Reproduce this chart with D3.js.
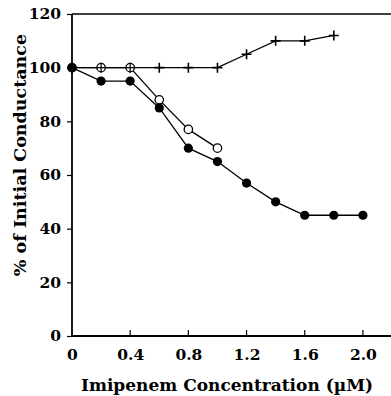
<!DOCTYPE html>
<html>
<head>
<meta charset="utf-8">
<script src="https://cdn.jsdelivr.net/npm/d3@7"></script>
<style>
  body { margin: 0; background: #fff; }
  text { font-family: "DejaVu Serif", "Liberation Serif", serif; font-weight: bold; fill: #000; }
</style>
</head>
<body>
<div id="chart"></div>
<script>
// data
const plusX = [0, 0.2, 0.4, 0.6, 0.8, 1.0, 1.2, 1.4, 1.6, 1.8];
const plusY = [100, 100, 100, 100, 100, 100, 105, 110, 110, 112];
const openX = [0, 0.2, 0.4, 0.6, 0.8, 1.0];
const openY = [100, 100, 100, 88, 77, 70];
const filledX = [0, 0.2, 0.4, 0.6, 0.8, 1.0, 1.2, 1.4, 1.6, 1.8, 2.0];
const filledY = [100, 95, 95, 85, 70, 65, 57, 50, 45, 45, 45];
const xTicks = [0, 0.4, 0.8, 1.2, 1.6, 2.0];
const yTicks = [0, 20, 40, 60, 80, 100, 120];

const W = 391, H = 396;
const margin = { top: 14, right: 0, bottom: 60, left: 72 };

const svg = d3.select('#chart').append('svg')
    .attr('width', W)
    .attr('height', H);

const x = d3.scaleLinear().domain([0, 2.2]).range([margin.left, margin.left + 320]);
const y = d3.scaleLinear().domain([0, 120]).range([H - margin.bottom, margin.top]);

// frame: left, bottom, top (no right edge visible)
svg.append('line').attr('x1', x(0)).attr('x2', x(0)).attr('y1', y(0)).attr('y2', y(120))
    .attr('stroke', '#000').attr('stroke-width', 1.8);
svg.append('line').attr('x1', x(0)).attr('x2', W).attr('y1', y(0)).attr('y2', y(0))
    .attr('stroke', '#000').attr('stroke-width', 1.8);
svg.append('line').attr('x1', x(0)).attr('x2', W).attr('y1', y(120)).attr('y2', y(120))
    .attr('stroke', '#000').attr('stroke-width', 1.5);

// y ticks (outward)
const yAxis = d3.axisLeft(y).tickValues(yTicks).tickSize(5).tickPadding(6).tickFormat(d3.format('d'));
const gy = svg.append('g').attr('transform', `translate(${x(0)},0)`).call(yAxis);
gy.select('.domain').remove();
gy.selectAll('line').attr('stroke-width', 1.2);
gy.selectAll('text').attr('font-size', 15.5).attr('font-family', '"DejaVu Serif", serif').attr('font-weight', 'bold');

// x ticks (inward)
const xAxis = d3.axisBottom(x).tickValues(xTicks).tickSize(0).tickPadding(13)
    .tickFormat(d => d === 0 ? '0' : d3.format('.1f')(d));
const gx = svg.append('g').attr('transform', `translate(0,${y(0)})`).call(xAxis);
gx.select('.domain').remove();
gx.selectAll('text').attr('font-size', 15.5).attr('font-family', '"DejaVu Serif", serif').attr('font-weight', 'bold');
svg.selectAll('.xtick').data(xTicks.filter(d => d > 0)).enter().append('line')
    .attr('x1', d => x(d)).attr('x2', d => x(d))
    .attr('y1', y(0)).attr('y2', y(0) - 6)
    .attr('stroke', '#000').attr('stroke-width', 1.2);

// axis titles
svg.append('text')
    .attr('x', 227).attr('y', 391)
    .attr('text-anchor', 'middle')
    .attr('font-size', 17)
    .text('Imipenem Concentration (µM)');
svg.append('text')
    .attr('transform', 'translate(26,155) rotate(-90)')
    .attr('text-anchor', 'middle')
    .attr('font-size', 17.5)
    .text('% of Initial Conductance');

const line = d3.line().x(d => x(d[0])).y(d => y(d[1]));
const zip = (a, b) => a.map((v, i) => [v, b[i]]);

const plusData = zip(plusX, plusY);
const openData = zip(openX, openY);
const filledData = zip(filledX, filledY);

[plusData, openData, filledData].forEach(d => {
    svg.append('path').datum(d).attr('d', line)
        .attr('fill', 'none').attr('stroke', '#000').attr('stroke-width', 1.3);
});

// plus markers
svg.selectAll('.plus').data(plusData).enter().append('path')
    .attr('d', d => `M${x(d[0]) - 5},${y(d[1])}h10M${x(d[0])},${y(d[1]) - 5}v10`)
    .attr('stroke', '#000').attr('stroke-width', 1.6);

// open circles
svg.selectAll('.open').data(openData).enter().append('circle')
    .attr('cx', d => x(d[0])).attr('cy', d => y(d[1])).attr('r', 4.2)
    .attr('fill', '#fff').attr('stroke', '#000').attr('stroke-width', 1.3);
// the plus shows through the open circles where they coincide
svg.selectAll('.plus2').data(plusData.filter(d => openData.some(o => o[0] === d[0] && o[1] === d[1]))).enter().append('path')
    .attr('d', d => `M${x(d[0]) - 4},${y(d[1])}h8M${x(d[0])},${y(d[1]) - 4}v8`)
    .attr('stroke', '#000').attr('stroke-width', 1.2);

// filled circles
svg.selectAll('.filled').data(filledData).enter().append('circle')
    .attr('cx', d => x(d[0])).attr('cy', d => y(d[1])).attr('r', 4.6)
    .attr('fill', '#000');
</script>
</body>
</html>
